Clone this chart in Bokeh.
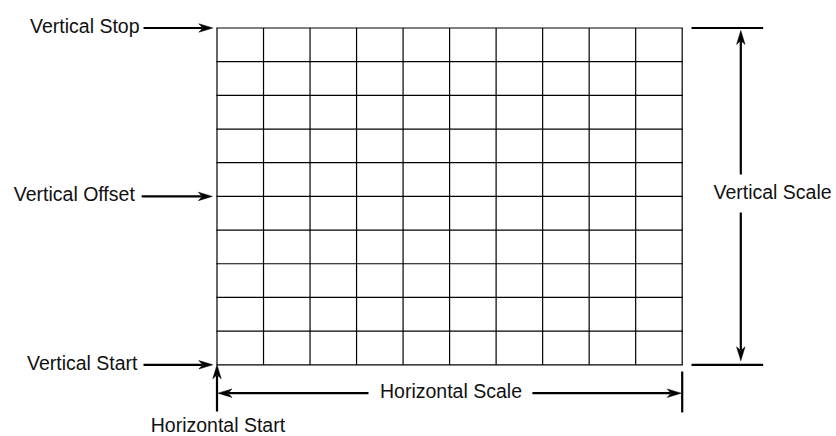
from bokeh.plotting import figure
from bokeh.models import Range1d
from bokeh.core.properties import value
from bokeh.embed import file_html
from bokeh.resources import INLINE

# ---- diagram data (grid units: one unit = one division) ----
n_cols = 10
n_rows = 10
col_lines = list(range(n_cols + 1))
row_lines = list(range(n_rows + 1))

left_labels = ["Vertical Stop", "Vertical Offset", "Vertical Start"]
left_label_rows = [10, 5, 0]
left_label_x = [-1.666, -1.767, -1.709]
left_arrow_tail_x = [-1.58, -1.62, -1.58]
left_arrow_tip_x = [-0.09, -0.10, -0.09]

vscale_label = "Vertical Scale"
vscale_x = 11.26
vscale_gap = [4.52, 5.65]
vscale_label_x = 10.673
ext_line_x = [10.2, 11.74]

hscale_label = "Horizontal Scale"
hscale_y = -0.843
hscale_gap = [3.257, 6.78]
hscale_tick_y = [-0.2, -1.414]

hstart_label = "Horizontal Start"
hstart_tail_y = -1.39
hstart_label_y = -2.078

# ---- figure / scale ----
W, H = 836, 436
x0, x1 = -4.654, 13.317
y0, y1 = -2.129, 10.816
PXX = W / (x1 - x0)
PXY = H / (y1 - y0)

p = figure(width=W, height=H, output_backend="svg", toolbar_location=None,
           x_range=Range1d(x0, x1), y_range=Range1d(y0, y1), min_border=0)
p.axis.visible = False
p.grid.visible = False
p.outline_line_color = None
p.background_fill_color = "white"
p.border_fill_color = "white"

FONT = value("Liberation Sans")
FS = "19.5px"
INK = "black"
TEXT_INK = "#111111"

# grid
p.segment(x0=col_lines, y0=[0] * len(col_lines), x1=col_lines, y1=[n_rows] * len(col_lines),
          line_color=INK, line_width=1.2)
p.segment(x0=[0] * len(row_lines), y0=row_lines, x1=[n_cols] * len(row_lines), y1=row_lines,
          line_color=INK, line_width=1.2, line_cap="square")

heads_x, heads_y = [], []
shaft = {"x0": [], "y0": [], "x1": [], "y1": []}

def arrow(tx, ty, hx, hy, L=14.0, Wd=8.5):
    """tail (tx,ty) -> tip (hx,hy) in data units; head sized in pixels"""
    dxp = (hx - tx) * PXX
    dyp = (hy - ty) * PXY
    n = (dxp ** 2 + dyp ** 2) ** 0.5
    ux, uy = dxp / n, dyp / n
    nx, ny = -uy, ux
    pts = [(0, 0),
           (-L * ux + Wd / 2 * nx, -L * uy + Wd / 2 * ny),
           (-0.72 * L * ux, -0.72 * L * uy),
           (-L * ux - Wd / 2 * nx, -L * uy - Wd / 2 * ny)]
    heads_x.append([hx + a / PXX for a, b in pts])
    heads_y.append([hy + b / PXY for a, b in pts])
    shaft["x0"].append(tx)
    shaft["y0"].append(ty)
    shaft["x1"].append(hx - 0.75 * L * ux / PXX)
    shaft["y1"].append(hy - 0.75 * L * uy / PXY)

# left arrows
for tx, hx, r in zip(left_arrow_tail_x, left_arrow_tip_x, left_label_rows):
    arrow(tx, r, hx, r)

# vertical scale arrows
arrow(vscale_x, vscale_gap[1], vscale_x, n_rows - 2.5 / PXY)
arrow(vscale_x, vscale_gap[0], vscale_x, 0 + 4.0 / PXY)

# horizontal scale arrows
arrow(hscale_gap[0], hscale_y, 0 + 1.0 / PXX, hscale_y)
arrow(hscale_gap[1], hscale_y, n_cols - 1.0 / PXX, hscale_y)

# horizontal start arrow
arrow(0, hstart_tail_y, 0, 0)

p.segment(**shaft, line_color=INK, line_width=2.2)
p.patches(heads_x, heads_y, fill_color=INK, line_color=INK, line_width=0.5)

# extension lines and tick
p.segment(x0=[ext_line_x[0]] * 2, y0=[n_rows, 0], x1=[ext_line_x[1]] * 2, y1=[n_rows, 0],
          line_color=INK, line_width=2.2)
p.segment(x0=[n_cols], y0=[hscale_tick_y[0]], x1=[n_cols], y1=[hscale_tick_y[1]],
          line_color=INK, line_width=2.2)

# labels
p.text(x=left_label_x, y=left_label_rows, text=left_labels, text_align="right",
       text_baseline="alphabetic", y_offset=-2, text_font=FONT, text_font_size=FS,
       text_color=TEXT_INK)
p.text(x=[vscale_label_x], y=[n_rows / 2], text=[vscale_label], text_align="left",
       text_baseline="alphabetic", y_offset=-4, text_font=FONT, text_font_size=FS,
       text_color=TEXT_INK)
p.text(x=[n_cols / 2 + 0.03], y=[hscale_y], text=[hscale_label], text_align="center",
       text_baseline="alphabetic", y_offset=-2, text_font=FONT, text_font_size=FS,
       text_color=TEXT_INK)
p.text(x=[0.02], y=[hstart_label_y], text=[hstart_label], text_align="center",
       text_baseline="alphabetic", y_offset=-10, text_font=FONT, text_font_size=FS,
       text_color=TEXT_INK)

open("out.html", "w").write(file_html(p, INLINE))
